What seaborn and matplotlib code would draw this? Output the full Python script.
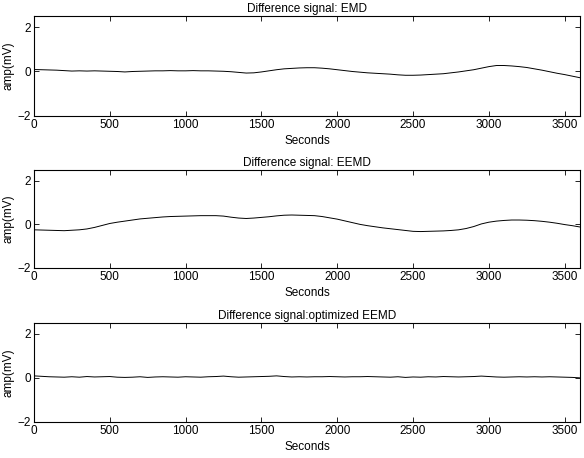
"""
difference signals (EMD / EEMD / optimized EEMD), matlab-ish look
"""
import numpy as np
import pandas as pd
import seaborn as sns
import matplotlib
matplotlib.use('Agg')
import matplotlib.pyplot as plt

# time grid, one reading every 50 s
seconds = np.arange(0, 3601, 50)

emd = [0.09, 0.08, 0.07, 0.06, 0.04, 0.02, 0.03, 0.02, 0.03, 0.02,
       0.01, 0.00, -0.02, 0.00, 0.01, 0.02, 0.03, 0.03, 0.04, 0.03,
       0.03, 0.04, 0.03, 0.03, 0.02, 0.01, -0.01, -0.04, -0.07, -0.06,
       -0.02, 0.03, 0.08, 0.12, 0.14, 0.16, 0.17, 0.17, 0.15, 0.12,
       0.08, 0.04, 0.00, -0.03, -0.06, -0.08, -0.10, -0.12, -0.15, -0.17,
       -0.17, -0.16, -0.14, -0.12, -0.10, -0.06, -0.02, 0.03, 0.08, 0.15,
       0.22, 0.27, 0.27, 0.25, 0.22, 0.18, 0.12, 0.06, -0.01, -0.08,
       -0.14, -0.21, -0.28]

eemd = [-0.25, -0.26, -0.27, -0.28, -0.29, -0.27, -0.25, -0.21, -0.14, -0.05,
        0.04, 0.10, 0.15, 0.20, 0.25, 0.28, 0.31, 0.34, 0.36, 0.37,
        0.38, 0.39, 0.40, 0.40, 0.40, 0.38, 0.33, 0.29, 0.27, 0.29,
        0.32, 0.35, 0.39, 0.42, 0.43, 0.42, 0.41, 0.40, 0.36, 0.30,
        0.24, 0.16, 0.08, 0.00, -0.06, -0.11, -0.16, -0.20, -0.24, -0.28,
        -0.32, -0.33, -0.32, -0.31, -0.30, -0.28, -0.25, -0.19, -0.10, 0.02,
        0.10, 0.15, 0.18, 0.20, 0.20, 0.19, 0.17, 0.14, 0.10, 0.05,
        -0.01, -0.06, -0.12]

opt_eemd = [0.09, 0.07, 0.05, 0.04, 0.03, 0.05, 0.03, 0.06, 0.04, 0.05,
            0.06, 0.03, 0.02, 0.03, 0.05, 0.02, 0.04, 0.05, 0.04, 0.03,
            0.05, 0.04, 0.03, 0.05, 0.06, 0.08, 0.05, 0.03, 0.04, 0.05,
            0.06, 0.07, 0.09, 0.06, 0.04, 0.05, 0.04, 0.05, 0.05, 0.06,
            0.05, 0.04, 0.05, 0.05, 0.06, 0.05, 0.04, 0.03, 0.05, 0.02,
            0.04, 0.03, 0.05, 0.04, 0.06, 0.05, 0.04, 0.05, 0.06, 0.08,
            0.06, 0.04, 0.03, 0.04, 0.05, 0.04, 0.05, 0.04, 0.05, 0.04,
            0.03, 0.02, 0.00]

titles = ['Difference signal: EMD', 'Difference signal: EEMD',
          'Difference signal:optimized EEMD']
xticks = [0, 500, 1000, 1500, 2000, 2500, 3000, 3500]
yticks = [-2, 0, 2]


if __name__ == "__main__":
    sns.set_style('ticks', {'xtick.direction': 'in', 'ytick.direction': 'in',
                            'axes.edgecolor': 'k', 'text.color': 'k',
                            'axes.labelcolor': 'k', 'xtick.color': 'k',
                            'ytick.color': 'k'})
    plt.rcParams['font.family'] = ['Liberation Sans', 'DejaVu Sans']
    fs = 8.5

    fig = plt.figure(figsize=(5.84, 4.58), dpi=100)
    boxes = [[0.058, 0.747, 0.935, 0.218],
             [0.058, 0.415, 0.935, 0.214],
             [0.058, 0.079, 0.935, 0.216]]

    for box, sig, ttl in zip(boxes, [emd, eemd, opt_eemd], titles):
        ax = fig.add_axes(box)
        df = pd.DataFrame({'t': seconds, 'amp': sig})
        sns.lineplot(data=df, x='t', y='amp', ax=ax, color='k', lw=0.7)
        ax.set_xlim(0, 3600)
        ax.set_ylim(-2, 2.5)
        ax.set_xticks(xticks)
        ax.set_yticks(yticks)
        ax.tick_params(top=True, right=True, length=3.5, width=0.6,
                       labelsize=fs, pad=2)
        for sp in ax.spines.values():
            sp.set_linewidth(0.8)
        ax.set_title(ttl, fontsize=fs, pad=3)
        ax.set_xlabel('Seconds', fontsize=fs, labelpad=3)
        ax.set_ylabel('amp(mV)', fontsize=fs, labelpad=2)

    plt.savefig('out.png', dpi=100)
